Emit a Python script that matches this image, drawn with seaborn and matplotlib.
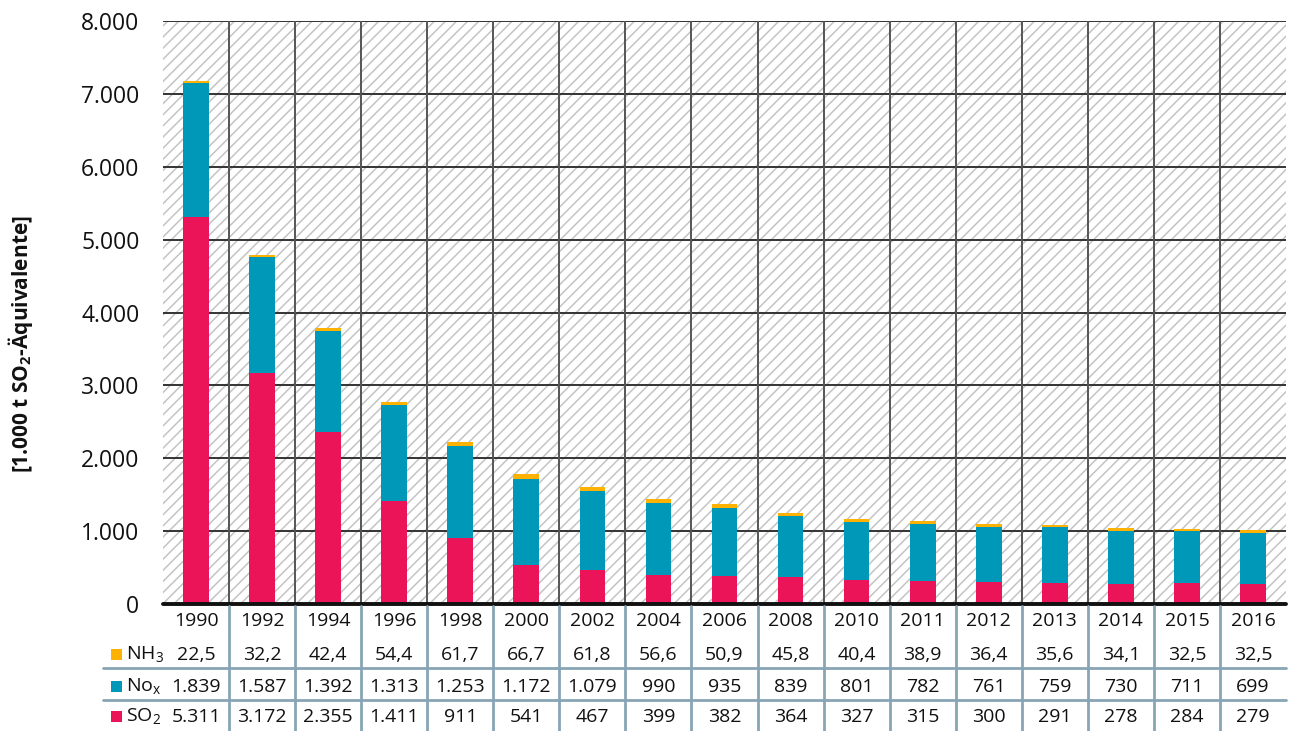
import matplotlib
matplotlib.use("Agg")
import matplotlib.pyplot as plt
from matplotlib.lines import Line2D
from matplotlib.patches import Rectangle
import matplotlib.transforms as mtransforms
import seaborn as sns
import pandas as pd

# Emissions in 1.000 t SO2-equivalents
years = ["1990", "1992", "1994", "1996", "1998", "2000", "2002", "2004", "2006",
         "2008", "2010", "2011", "2012", "2013", "2014", "2015", "2016"]
nh3 = [22.5, 32.2, 42.4, 54.4, 61.7, 66.7, 61.8, 56.6, 50.9, 45.8, 40.4, 38.9,
       36.4, 35.6, 34.1, 32.5, 32.5]
nox = [1839, 1587, 1392, 1313, 1253, 1172, 1079, 990, 935, 839, 801, 782, 761,
       759, 730, 711, 699]
so2 = [5311, 3172, 2355, 1411, 911, 541, 467, 399, 382, 364, 327, 315, 300,
       291, 278, 284, 279]
y_ticks = [0, 1000, 2000, 3000, 4000, 5000, 6000, 7000, 8000]

C_SO2 = "#EB1458"
C_NOX = "#0098B9"
C_NH3 = "#FDB100"
TABLE_LINE = "#87A5B5"

sns.set_theme(style="white")
FONT = "Open Sans"
plt.rcParams["font.family"] = [FONT, "DejaVu Sans"]
plt.rcParams["mathtext.fontset"] = "custom"
plt.rcParams["mathtext.rm"] = FONT
plt.rcParams["mathtext.bf"] = FONT + ":bold"
plt.rcParams["hatch.color"] = "#C4C4C4"
plt.rcParams["hatch.linewidth"] = 1.1

df = pd.DataFrame({"year": years, "SO2": so2, "NOx": nox, "NH3": nh3})
df["so2_nox"] = df["SO2"] + df["NOx"]
df["total"] = df["so2_nox"] + df["NH3"]

fig = plt.figure(figsize=(12.94, 7.31), dpi=100)
ax = fig.add_axes([163 / 1294, 1 - 604 / 731, 1123 / 1294, 583 / 731])

# hatched plot background
ax.patch.set_facecolor("white")
ax.patch.set_hatch("///")
ax.patch.set_edgecolor("#C4C4C4")
ax.patch.set_linewidth(0)

# stacked bars drawn as overlaid cumulative sums
bw = 0.39
sns.barplot(data=df, x="year", y="total", color=C_NH3, width=bw, saturation=1,
            linewidth=0, errorbar=None, ax=ax, zorder=3)
sns.barplot(data=df, x="year", y="so2_nox", color=C_NOX, width=bw, saturation=1,
            linewidth=0, errorbar=None, ax=ax, zorder=3)
sns.barplot(data=df, x="year", y="SO2", color=C_SO2, width=bw, saturation=1,
            linewidth=0, errorbar=None, ax=ax, zorder=3)

n = len(years)
ax.set_xlim(-0.5, n - 0.5)
ax.set_ylim(0, 8000)
ax.set_yticks(y_ticks)
ax.set_yticklabels([f"{v:,}".replace(",", ".") for v in y_ticks], fontsize=16.5,
                   color="#111111")
ax.tick_params(axis="y", length=0, pad=17)
ax.set_xticks([])
ax.set_xlabel("")

# grid lines
for v in y_ticks[1:]:
    ax.axhline(v, color="#333333", lw=1.4, zorder=2)
for i in range(n - 1):
    ax.axvline(i + 0.5, color="#555555", lw=1.4, zorder=2)
ax.axhline(0, color="#111111", lw=2.8, zorder=4, clip_on=False)

for s in ax.spines.values():
    s.set_visible(False)

ax.set_ylabel("[1.000 t SO$_\\mathbf{2}$-Äquivalente]", fontsize=15,
              fontweight="bold", color="#111111")
ax.yaxis.set_label_coords(-0.114, 0.445)

# data table under the chart
trans = mtransforms.blended_transform_factory(ax.transData, fig.transFigure)


def fy(py):
    return 1 - py / 731


def de(v, dec=0):
    s = f"{v:,.{dec}f}"
    return s.replace(",", "X").replace(".", ",").replace("X", ".")


TS = 14
for i, yr in enumerate(years):
    ax.text(i, fy(621), yr, transform=trans, ha="center", va="center",
            fontsize=TS, color="#111111")
    ax.text(i, fy(655), de(nh3[i], 1), transform=trans, ha="center",
            va="center", fontsize=TS, color="#111111")
    ax.text(i, fy(687), de(nox[i]), transform=trans, ha="center",
            va="center", fontsize=TS, color="#111111")
    ax.text(i, fy(717), de(so2[i]), transform=trans, ha="center",
            va="center", fontsize=TS, color="#111111")

for i in range(n - 1):
    fig.add_artist(Line2D([i + 0.5, i + 0.5], [fy(606), 0], transform=trans,
                          color=TABLE_LINE, lw=2))
for py in (668, 700):
    fig.add_artist(Line2D([103 / 1294, 1286 / 1294], [fy(py), fy(py)],
                          transform=fig.transFigure, color=TABLE_LINE, lw=2))

# row legend keys
rows = [(655, C_NH3, "NH$_3$"), (687, C_NOX, "No$_\\mathregular{x}$"),
        (717, C_SO2, "SO$_2$")]
for py, col, lab in rows:
    fig.add_artist(Rectangle((111 / 1294, fy(py + 5)), 11 / 1294, 11 / 731,
                             transform=fig.transFigure, color=col, lw=0))
    fig.text(126 / 1294, fy(py), lab, ha="left", va="center", fontsize=TS,
             color="#111111")

fig.savefig("out.png", dpi=100)
